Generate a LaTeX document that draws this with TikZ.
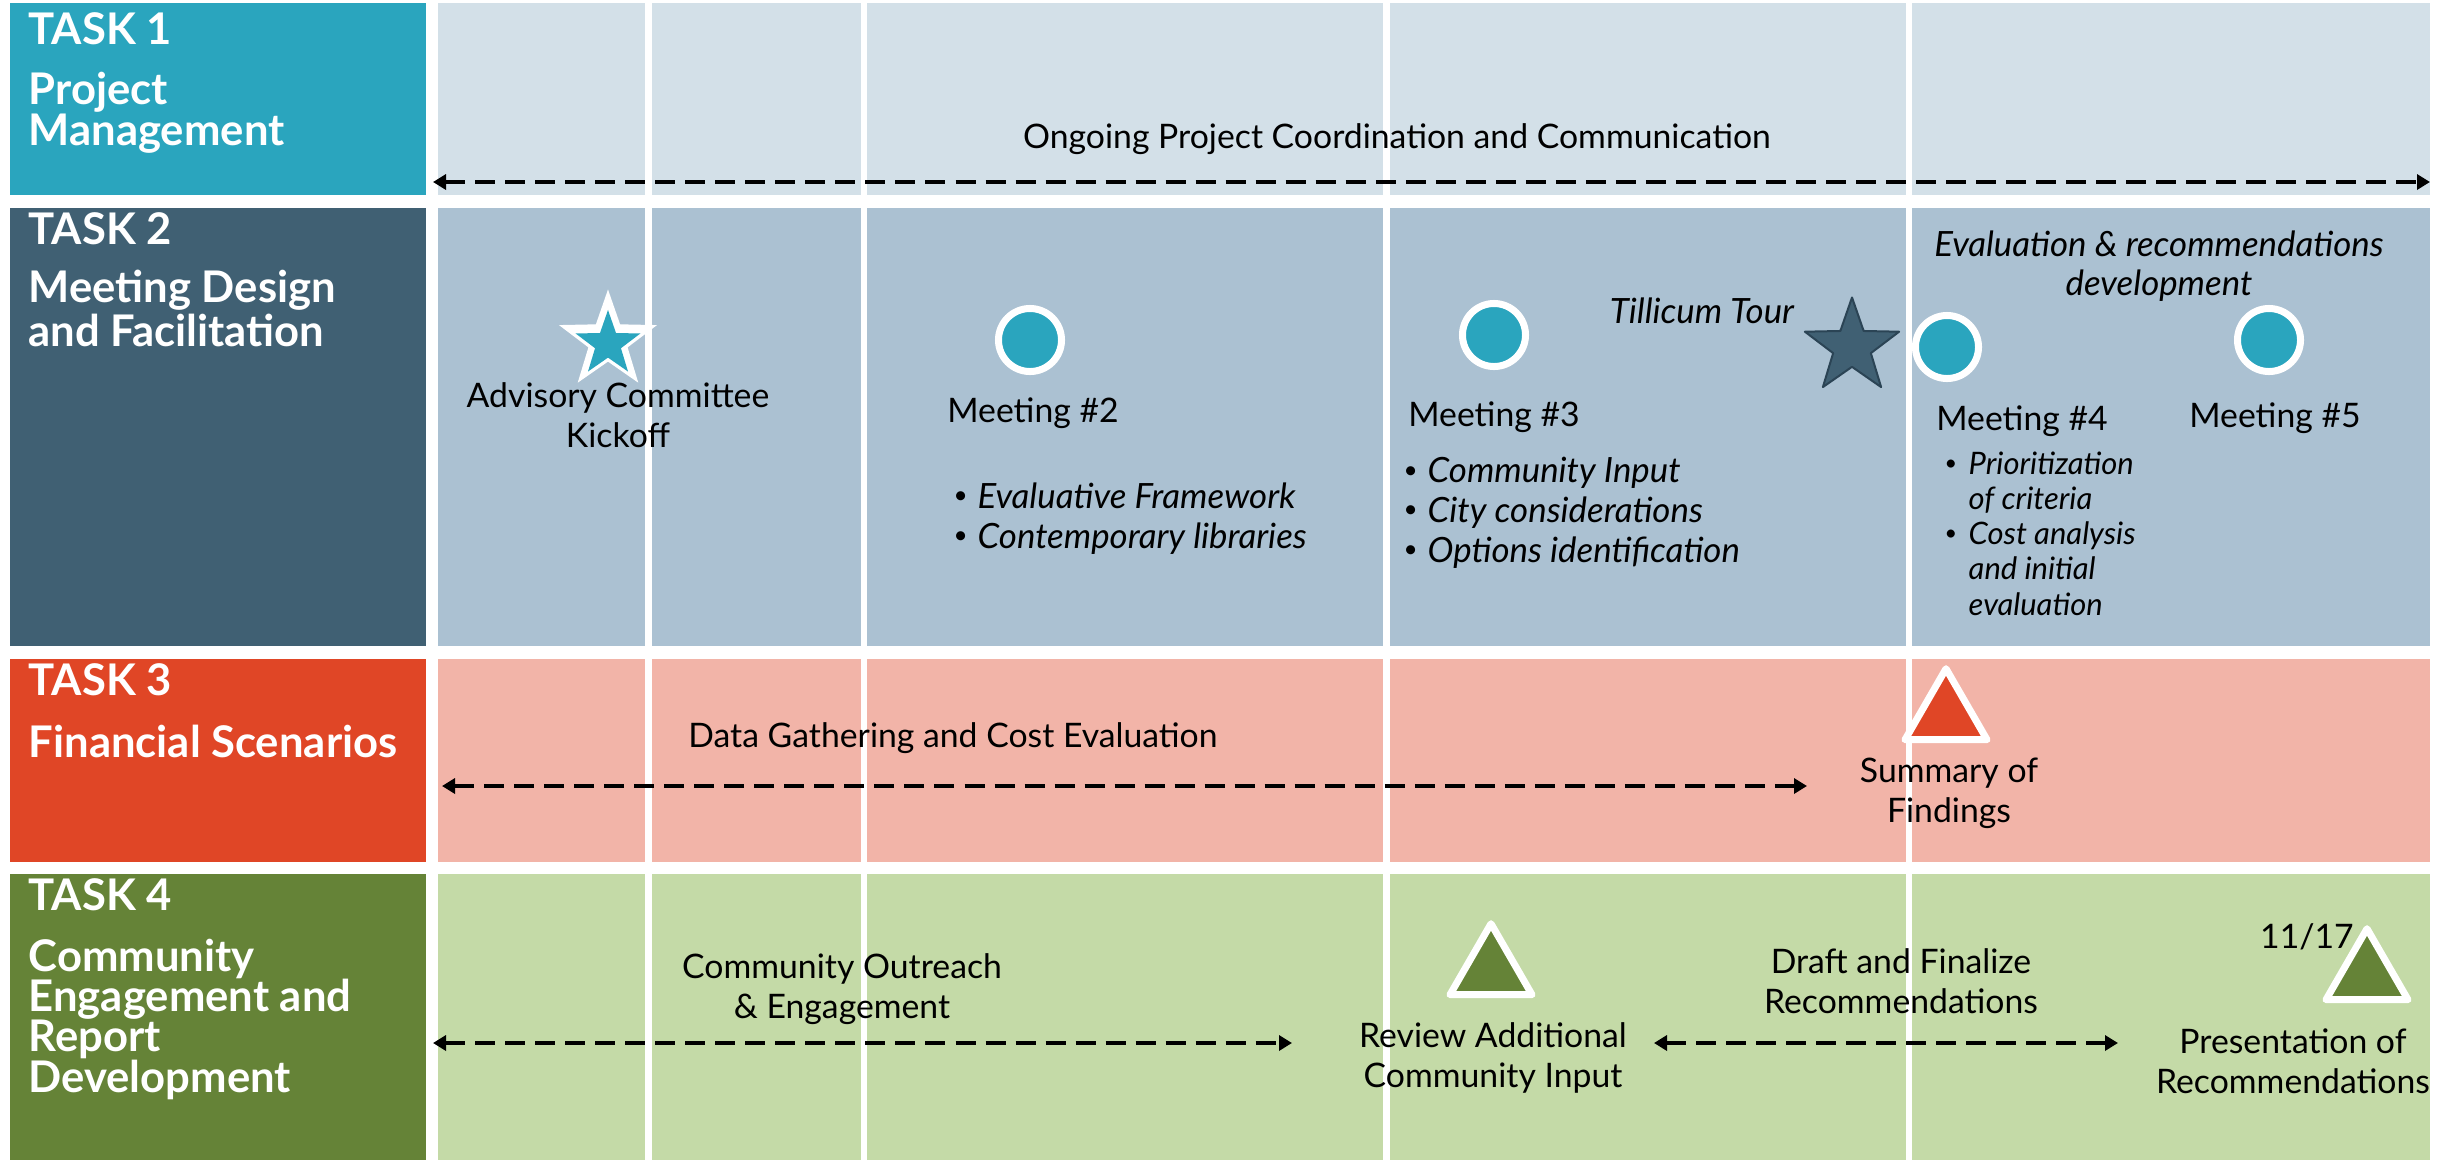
\documentclass[tikz,border=0pt]{standalone}
\usepackage{fontspec}
\usepackage{graphicx}
\setmainfont{Lato}
\usetikzlibrary{shapes.geometric,arrows.meta}

\definecolor{tealA}{HTML}{2AA5BE}
\definecolor{paleA}{HTML}{D3E0E8}
\definecolor{slateB}{HTML}{406073}
\definecolor{paleB}{HTML}{ABC1D2}
\definecolor{redC}{HTML}{E04626}
\definecolor{paleC}{HTML}{F2B4A8}
\definecolor{greenD}{HTML}{658337}
\definecolor{paleD}{HTML}{C4DAA7}
\definecolor{starline}{HTML}{2B4455}

\newcommand{\bulletmark}{\makebox[0.24cm][l]{\upshape\raisebox{0.25ex}{\scalebox{0.7}{\textbullet}}}}

\begin{document}
\begin{tikzpicture}[x=0.01cm, y=-0.01cm, line join=round, >={Triangle[length=0.13cm,width=0.15cm]},
	taskhead/.style={anchor=base west, inner sep=0pt, text=white, align=left, font=\fontsize{12.4}{11.4}\selectfont\bfseries},
	lbl/.style={anchor=base, inner sep=0pt, align=center, font=\fontsize{9.6}{11.1}\selectfont},
	itlbl/.style={lbl, font=\fontsize{9.9}{11}\selectfont\itshape},
	bullets/.style={anchor=base west, inner sep=0pt, align=left, font=\fontsize{9.9}{11.3}\selectfont\itshape},
	meet/.style={circle, fill=tealA, draw=white, line width=0.07cm, minimum size=0.63cm, inner sep=0pt},
	mile/.style={draw=white, line width=0.07cm},
	stardot/.style={star, star points=5, star point ratio=2.5, inner sep=0pt},
	track/.style={<->, dash pattern=on 0.2cm off 0.1cm, line width=0.033cm}]
	\useasboundingbox (0,0) rectangle (2453,1160);
	\fill[white] (0,0) rectangle (2453,1160);
	% task rows and month columns
	\foreach \ya/\yb/\c in {3/195/paleA, 208/646/paleB, 659/862/paleC, 874/1160/paleD}
		\foreach \xa/\xb in {438/645, 652/861, 867/1383, 1390/1906, 1912/2430}
			\fill[\c] (\xa,\ya) rectangle (\xb,\yb);
	\foreach \ya/\yb/\c in {3/195/tealA, 208/646/slateB, 659/862/redC, 874/1160/greenD}
		\fill[\c] (10,\ya) rectangle (426,\yb);
	
	\node[taskhead] (t1) at (28,44) {TASK 1};
	\node[taskhead] (t1name) at (28,145) {Project\\Management};
	\node[taskhead] (t2) at (28,244) {TASK 2};
	\node[taskhead] (t2name) at (28,346) {Meeting Design\\and Facilitation};
	\node[taskhead] (t3) at (28,695) {TASK 3};
	\node[taskhead] (t3name) at (28,757) {Financial Scenarios};
	\node[taskhead] (t4) at (28,910) {TASK 4};
	\node[taskhead] (t4name) at (28,1092) {Community\\Engagement and\\Report\\Development};
	
	% markers
	\node[stardot, fill=white, minimum size=1.03cm] (kick) at (608,341) {};
	\node[stardot, fill=tealA, minimum size=0.68cm] (kickin) at (608,344) {};
	\foreach \n/\x/\y in {2/1030/340, 3/1494/335, 4/1947/347, 5/2269/340}
		\node[meet] (m\n) at (\x,\y) {};
	\node[stardot, fill=slateB, draw=starline, line width=0.02cm, minimum size=0.99cm] (tour) at (1852,347) {};
	\path
	(1946,716) coordinate (summary)
	(1491,971) coordinate (review)
	(2367,976) coordinate (present);
	\foreach \p/\c in {summary/redC, review/greenD, present/greenD}
		\filldraw[mile, fill=\c] (\p) ++(0,-47.3) -- ++(41,71) -- ++(-82,0) -- cycle;
	
	% spans
	\path
	(433,182) coordinate (p1l)
	(2430,182) coordinate (p1r)
	(442,786) coordinate (f1l)
	(1807,786) coordinate (f1r)
	(433,1043) coordinate (c1l)
	(1292,1043) coordinate (c1r)
	(1654,1043) coordinate (c2l)
	(2118,1043) coordinate (c2r);
	\draw[track] (p1l)--(p1r);
	\draw[track] (f1l)--(f1r);
	\draw[track] (c1l)--(c1r);
	\draw[track] (c2l)--(c2r);
	
	% labels
	\node[lbl] (ongoing) at (1397,148) {Ongoing Project Coordination and Communication};
	\node[lbl] (kicktxt) at (618,447) {Advisory Committee\\Kickoff};
	\node[lbl] (m2txt) at (1033,422) {Meeting \#2};
	\node[lbl] (m3txt) at (1494,426) {Meeting \#3};
	\node[lbl] (m4txt) at (2022,430) {Meeting \#4};
	\node[lbl] (m5txt) at (2275,427) {Meeting \#5};
	\node[itlbl] (tourtxt) at (1702,323) {Tillicum Tour};
	\node[itlbl] (evaltxt) at (2159,295) {Evaluation \& recommendations\\development};
	\node[bullets] (m2list) at (953,548) {\bulletmark Evaluative Framework\\\bulletmark Contemporary libraries};
	\node[bullets] (m3list) at (1403,562) {\bulletmark Community Input\\\bulletmark City considerations\\\bulletmark Options identification};
	\node[bullets, font=\fontsize{8.8}{10}\selectfont\itshape] (m4list) at (1944,615) {\bulletmark Prioritization\\\hspace*{0.24cm}of criteria\\\bulletmark Cost analysis\\\hspace*{0.24cm}and initial\\\hspace*{0.24cm}evaluation};
	\node[lbl] (datatxt) at (953,747) {Data Gathering and Cost Evaluation};
	\node[lbl] (summtxt) at (1949,822) {Summary of\\Findings};
	\node[lbl] (outtxt) at (842,1018) {Community Outreach\\\& Engagement};
	\node[lbl] (revtxt) at (1493,1087) {Review Additional\\Community Input};
	\node[lbl] (drafttxt) at (1901,1013) {Draft and Finalize\\Recommendations};
	\node[lbl] (datetxt) at (2307,948) {11/17};
	\node[lbl] (prestxt) at (2293,1093) {Presentation of\\Recommendations};
\end{tikzpicture}
\end{document}
